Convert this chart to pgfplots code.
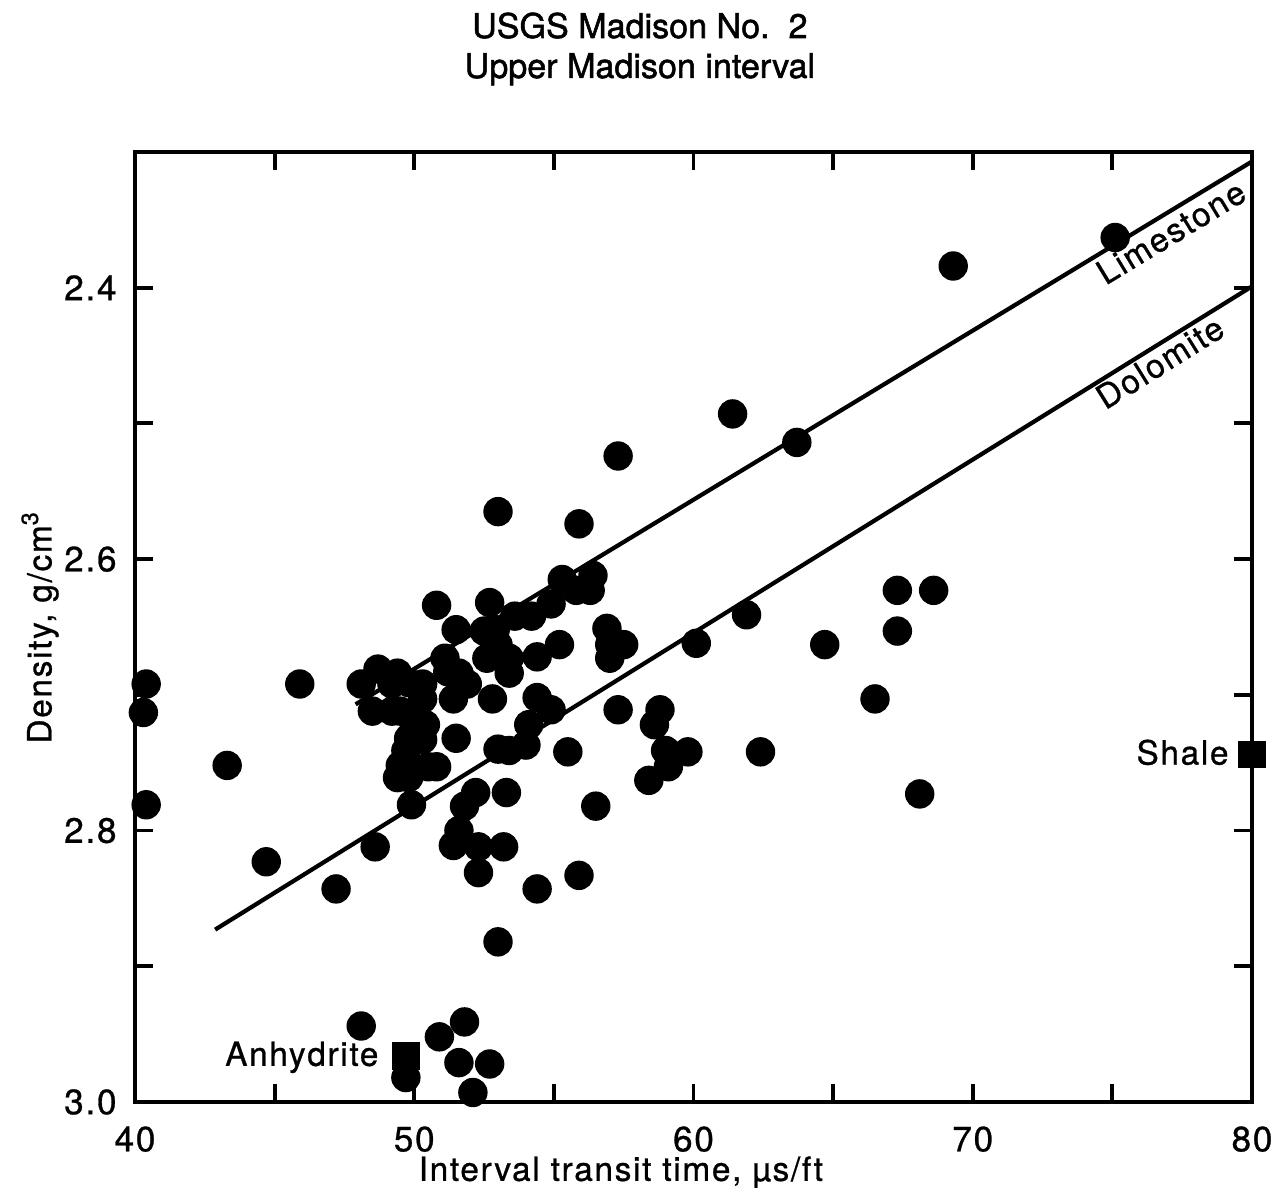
\documentclass[border=0pt]{standalone}
\usepackage{fontspec}
\setmainfont{TeX Gyre Heros}[LetterSpace=5, FakeBold=0.8]
\newfontfamily\titlefont{TeX Gyre Heros}[FakeBold=1.5]
\usepackage{pgfplots}
\usepackage{pgfplotstable}
\pgfplotsset{compat=1.18}

% Interval transit time (us/ft) and bulk density (g/cm3)
\pgfplotstableread{
x     y
75.1  2.363
69.3  2.384
61.4  2.493
63.7  2.514
57.3  2.524
53.0  2.565
55.9  2.574
55.3  2.615
56.4  2.612
55.8  2.623
56.3  2.623
54.9  2.633
52.7  2.632
50.8  2.634
54.2  2.642
53.6  2.642
61.9  2.641
56.9  2.651
57.0  2.663
57.5  2.663
57.0  2.673
55.2  2.663
54.4  2.672
60.1  2.662
64.7  2.663
67.3  2.623
68.6  2.623
67.3  2.653
66.5  2.703
57.3  2.711
58.8  2.711
58.6  2.722
59.0  2.741
59.8  2.742
59.1  2.753
58.4  2.763
62.4  2.742
68.1  2.773
55.5  2.742
56.5  2.782
54.4  2.702
54.9  2.711
54.1  2.722
54.0  2.737
53.4  2.741
53.0  2.740
51.5  2.652
52.5  2.653
52.9  2.652
53.0  2.663
52.6  2.673
53.4  2.673
53.4  2.684
51.1  2.673
51.2  2.683
51.6  2.684
51.9  2.692
51.4  2.703
52.8  2.703
51.5  2.732
48.7  2.681
49.4  2.684
48.1  2.692
49.2  2.692
49.8  2.691
50.3  2.692
50.3  2.703
48.5  2.712
49.2  2.712
49.5  2.712
50.0  2.722
50.4  2.722
49.8  2.732
50.3  2.733
49.7  2.741
49.5  2.752
49.4  2.761
49.8  2.761
50.5  2.753
50.8  2.753
49.9  2.781
52.2  2.772
53.3  2.772
51.8  2.782
51.6  2.800
51.4  2.811
52.3  2.812
53.2  2.812
52.3  2.831
54.4  2.843
55.9  2.833
53.0  2.882
48.6  2.812
47.2  2.843
44.7  2.823
43.3  2.752
45.9  2.692
40.4  2.692
40.3  2.713
40.4  2.781
48.1  2.944
51.8  2.941
50.9  2.952
51.6  2.971
52.7  2.972
49.7  2.982
52.1  2.993
}\samples

\begin{document}
\begin{tikzpicture}
\begin{axis}[
  scale only axis,
  width=11.17cm, height=9.5cm,
  xmin=40, xmax=80,
  ymin=2.3, ymax=3.0,
  y dir=reverse,
  clip=false,
  xtick={40,50,...,80},
  minor xtick={45,55,...,75},
  ytick={2.4,2.6,2.8,3.0},
  minor ytick={2.5,2.7,2.9},
  yticklabel={\pgfmathprintnumber[fixed,fixed zerofill,precision=1]{\tick}},
  /pgf/number format/assume math mode=true,
  tick align=inside,
  major tick length=0.18cm,
  minor tick length=0.18cm,
  every tick/.style={black, line width=1.1pt},
  axis line style={line width=1.2pt},
  font=\fontsize{9.5}{11}\selectfont,
  tick label style={font=\fontsize{10}{12}\selectfont},
  xticklabel style={yshift=-0.12cm},
  yticklabel style={xshift=-0.06cm},
  xlabel={Interval transit time, µs/ft},
  xlabel style={at={(axis description cs:0.435,0)}, anchor=north, yshift=-0.42cm},
  ylabel={Density, g/cm\textsuperscript{3}},
  ylabel style={at={(axis description cs:-0.085,0.5)}, anchor=center},
]
\coordinate (lowerleft) at (rel axis cs:0,0);
\coordinate (upperright) at (rel axis cs:1,1);

% reference lines for limestone and dolomite
\addplot[black, line width=1.2pt] coordinates {(47.9,2.707) (80,2.307)};
\addplot[black, line width=1.2pt] coordinates {(42.87,2.873) (80,2.399)};

% measured samples
\addplot[only marks, mark=*, mark size=0.14cm, mark options={fill=black, draw=black}]
  table[x=x, y=y] {\samples};

% mineral end points
\addplot[only marks, mark=square*, mark size=0.13cm, mark options={fill=black, draw=black}]
  coordinates {(49.7,2.966) (80.0,2.744)};

\node[rotate=31.3] at (axis cs:77.1,2.359) {Limestone};
\node[rotate=32] at (axis cs:76.7,2.455) {Dolomite};
\node[anchor=base east] at ([xshift=-0.15cm,yshift=-0.1cm]axis cs:49.7,2.966) {Anhydrite};
\node[anchor=base east] at ([xshift=-0.11cm,yshift=-0.1cm]axis cs:80.0,2.744) {Shale};

\node[anchor=base, font=\titlefont\fontsize{9.7}{12}\selectfont] at ([yshift=1.14cm]rel axis cs:0.452,1) {USGS Madison No.~~2};
\node[anchor=base, font=\titlefont\fontsize{9.7}{12}\selectfont] at ([yshift=0.74cm]rel axis cs:0.452,1) {Upper Madison interval};
\end{axis}
\pgfresetboundingbox
\path ([xshift=-1.35cm,yshift=-0.86cm]lowerleft) rectangle ([xshift=0.24cm,yshift=1.52cm]upperright);
\end{tikzpicture}
\end{document}
